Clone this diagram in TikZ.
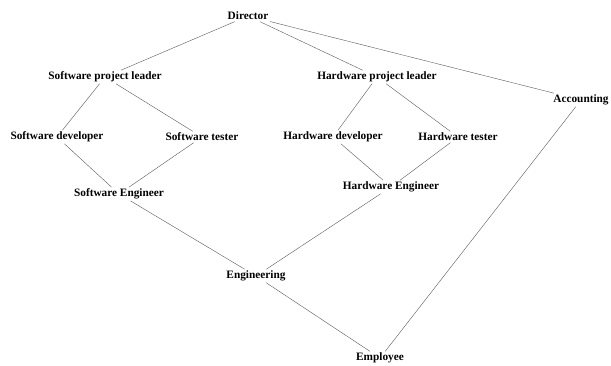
\documentclass[tikz,border=0pt]{standalone}
\usepackage{fontspec}
\setmainfont{Liberation Serif}
\usepackage{tikz}
\tikzset{
  role/.style={font=\bfseries\fontsize{11.3}{13}\selectfont, inner sep=1.5pt},
  link/.style={line width=0.4pt, draw=black!65, line cap=round},
}

\begin{document}
\begin{tikzpicture}[x=1pt,y=-1pt]
\useasboundingbox (0,0) rectangle (611,366);
\node[role] (dir) at (248,16) {Director};
\node[role] (swpl) at (105,77) {Software project leader};
\node[role] (hwpl) at (377,77) {Hardware project leader};
\node[role] (acc) at (581,100) {Accounting};
\node[role] (swdev) at (57,137) {Software developer};
\node[role] (swtest) at (202,137) {Software tester};
\node[role] (hwdev) at (333,137) {Hardware developer};
\node[role] (hwtest) at (458,137) {Hardware tester};
\node[role] (sweng) at (119,194) {Software Engineer};
\node[role] (hweng) at (391,187) {Hardware Engineer};
\node[role] (eng) at (256,276) {Engineering};
\node[role] (emp) at (380,358) {Employee};
\draw[link] (dir) -- (swpl);
\draw[link] (dir) -- (hwpl);
\draw[link] (dir) -- (acc);
\draw[link] (swpl) -- (swdev);
\draw[link] (swpl) -- (swtest);
\draw[link] (hwpl) -- (hwdev);
\draw[link] (hwpl) -- (hwtest);
\draw[link] (swdev) -- (sweng);
\draw[link] (swtest) -- (sweng);
\draw[link] (hwdev) -- (hweng);
\draw[link] (hwtest) -- (hweng);
\draw[link] (sweng) -- (eng);
\draw[link] (hweng) -- (eng);
\draw[link] (eng) -- (emp);
\draw[link] (acc) -- (emp);
\end{tikzpicture}
\end{document}
